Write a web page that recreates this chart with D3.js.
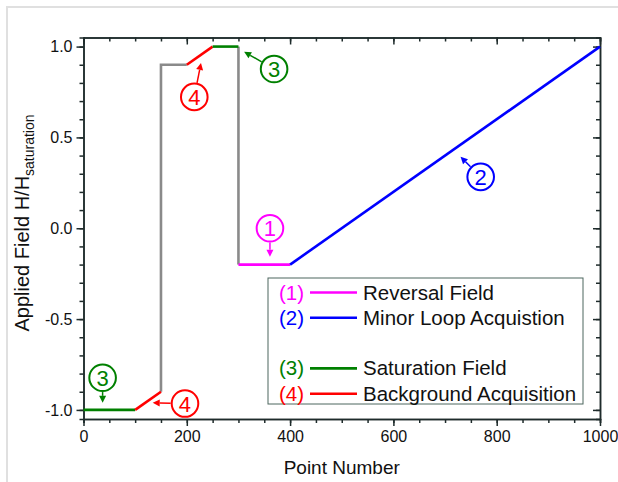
<!DOCTYPE html>
<meta charset="utf-8">
<title>field sequence</title>
<style>

body {
  margin: 0;
  background: #fff;
}

svg {
  font-family: Arial, "Liberation Sans", sans-serif;
}

.frame {
  fill: none;
  stroke: #e0e0e0;
  stroke-width: 2px;
}

.axis path, .axis line {
  stroke: #1e2b2b;
  stroke-width: 1.5px;
}

.axis text {
  font-size: 16px;
  fill: #111;
}

.seg {
  fill: none;
  stroke-width: 2.6px;
  stroke-linejoin: miter;
}

.legend-box {
  fill: #fff;
  stroke: #4d665e;
  stroke-width: 1px;
}

</style>
<body>
<script src="https://cdn.jsdelivr.net/npm/d3@7"></script>
<script>

var width = 618,
    height = 482,
    margin = {top: 37.5, right: 18, bottom: 63, left: 83.5};

// sweep segments: [x, y] points
var grayPath = [[150, -0.9], [150, 0.9], [200, 0.9]],
    grayPath2 = [[300, 1.0], [300, -0.2]],
    satLow = [[0, -1.0], [100, -1.0]],
    bgLow = [[100, -1.0], [150, -0.9]],
    bgHigh = [[200, 0.9], [250, 1.0]],
    satHigh = [[250, 1.0], [300, 1.0]],
    reversal = [[300, -0.2], [400, -0.2]],
    minorLoop = [[400, -0.2], [1000, 1.0]];

var xTicks = [0, 200, 400, 600, 800, 1000],
    yTicks = [-1.0, -0.5, 0.0, 0.5, 1.0];

var legendNums = ["(1)", "(2)", "(3)", "(4)"],
    legendLabels = ["Reversal Field", "Minor Loop Acquistion", "Saturation Field", "Background Acquisition"],
    legendColors = ["#ff00ff", "#0000ff", "#008000", "#ff0000"],
    legendRows = [0, 1, 3, 4];

// callouts: number, colour, circle centre [x, y], arrow tip [x, y]
var callNums = ["3", "4", "1", "2", "3", "4"],
    callColors = ["#008000", "#ff0000", "#ff00ff", "#0000ff", "#008000", "#ff0000"],
    callCenters = [[369, 0.877], [214.5, 0.723], [361, 0.0], [769, 0.283], [37, -0.823], [196.5, -0.965]],
    callTips = [[311, 0.971], [227.5, 0.91], [361, -0.157], [730, 0.393], [37, -0.961], [134, -0.961]];

var w = width - margin.left - margin.right,
    h = height - margin.top - margin.bottom;

var x = d3.scaleLinear().domain([0, 1000]).range([0, w]),
    y = d3.scaleLinear().domain([-1.05, 1.05]).range([h, 0]);

var svg = d3.select("body").append("svg")
    .attr("width", width)
    .attr("height", height);

svg.append("rect")
    .attr("class", "frame")
    .attr("x", 7)
    .attr("y", 7)
    .attr("width", 800)
    .attr("height", 800);

var g = svg.append("g")
    .attr("transform", "translate(" + margin.left + "," + margin.top + ")");

var fmt = function(d) { return d.toFixed(1); };
var yMinor = d3.range(-10, 11).map(function(i) { return i / 10; });

// minor ticks first
g.append("g").attr("class", "axis")
    .attr("transform", "translate(0," + h + ")")
    .call(d3.axisBottom(x).tickValues(d3.range(0, 1001, 50)).tickSize(4).tickFormat(""));
g.append("g").attr("class", "axis")
    .call(d3.axisTop(x).tickValues(d3.range(0, 1001, 50)).tickSize(-4).tickFormat(""));
g.append("g").attr("class", "axis")
    .call(d3.axisLeft(y).tickValues(yMinor).tickSize(4).tickFormat(""));
g.append("g").attr("class", "axis")
    .attr("transform", "translate(" + w + ",0)")
    .call(d3.axisRight(y).tickValues(yMinor).tickSize(-4).tickFormat(""));

// major ticks
g.append("g").attr("class", "axis")
    .attr("transform", "translate(0," + h + ")")
    .call(d3.axisBottom(x).tickValues(xTicks).tickSize(7).tickSizeOuter(0).tickPadding(5).tickFormat(d3.format("d")));
g.append("g").attr("class", "axis")
    .call(d3.axisTop(x).tickValues(xTicks).tickSize(-7).tickSizeOuter(0).tickFormat(""));
g.append("g").attr("class", "axis")
    .call(d3.axisLeft(y).tickValues(yTicks).tickSize(7).tickSizeOuter(0).tickPadding(4).tickFormat(fmt));
g.append("g").attr("class", "axis")
    .attr("transform", "translate(" + w + ",0)")
    .call(d3.axisRight(y).tickValues(yTicks).tickSize(-7).tickSizeOuter(0).tickFormat(""));

g.selectAll(".axis .domain").attr("stroke-width", 1.6);

var line = d3.line()
    .x(function(d) { return x(d[0]); })
    .y(function(d) { return y(d[1]); });

var segs = [
  {pts: grayPath, color: "#8a8a8a"},
  {pts: grayPath2, color: "#8a8a8a"},
  {pts: satLow, color: "#008000"},
  {pts: bgLow, color: "#ff0000"},
  {pts: bgHigh, color: "#ff0000"},
  {pts: satHigh, color: "#008000"},
  {pts: reversal, color: "#ff00ff"},
  {pts: minorLoop, color: "#0000ff"}
];

g.selectAll(".seg")
    .data(segs)
  .enter().append("path")
    .attr("class", "seg")
    .attr("d", function(d) { return line(d.pts); })
    .attr("stroke", function(d) { return d.color; });

// callouts
var r = 13.3;
var calls = g.selectAll(".call")
    .data(callNums.map(function(n, i) {
      return {n: n, color: callColors[i], c: callCenters[i], t: callTips[i]};
    }))
  .enter().append("g")
    .attr("class", "call");

calls.append("circle")
    .attr("cx", function(d) { return x(d.c[0]); })
    .attr("cy", function(d) { return y(d.c[1]); })
    .attr("r", r)
    .attr("fill", "none")
    .attr("stroke", function(d) { return d.color; })
    .attr("stroke-width", 2);

calls.append("text")
    .attr("x", function(d) { return x(d.c[0]); })
    .attr("y", function(d) { return y(d.c[1]) + 8; })
    .attr("text-anchor", "middle")
    .attr("font-size", "22px")
    .attr("fill", function(d) { return d.color; })
    .text(function(d) { return d.n; });

calls.each(function(d) {
  var cx = x(d.c[0]), cy = y(d.c[1]),
      tx = x(d.t[0]), ty = y(d.t[1]),
      dx = tx - cx, dy = ty - cy,
      len = Math.sqrt(dx * dx + dy * dy),
      ux = dx / len, uy = dy / len,
      sx = cx + ux * (r + 1), sy = cy + uy * (r + 1),
      hl = 7, hw = 3.5,
      bx = tx - ux * hl, by = ty - uy * hl;
  var sel = d3.select(this);
  sel.append("line")
      .attr("x1", sx).attr("y1", sy)
      .attr("x2", bx).attr("y2", by)
      .attr("stroke", d.color)
      .attr("stroke-width", 1.5);
  sel.append("path")
      .attr("d", "M" + tx + "," + ty +
                 "L" + (bx - uy * hw) + "," + (by + ux * hw) +
                 "L" + (bx + uy * hw) + "," + (by - ux * hw) + "Z")
      .attr("fill", d.color);
});

// legend
var lg = svg.append("g").attr("transform", "translate(268,278)");
lg.append("rect")
    .attr("class", "legend-box")
    .attr("width", 315)
    .attr("height", 126);

var rows = lg.selectAll(".row")
    .data(legendLabels)
  .enter().append("g")
    .attr("transform", function(d, i) { return "translate(0," + (14.5 + legendRows[i] * 25.3) + ")"; });

rows.append("text")
    .attr("x", 11)
    .attr("y", 7)
    .attr("font-size", "20.5px")
    .attr("fill", function(d, i) { return legendColors[i]; })
    .text(function(d, i) { return legendNums[i]; });

rows.append("line")
    .attr("x1", 42).attr("x2", 89)
    .attr("stroke", function(d, i) { return legendColors[i]; })
    .attr("stroke-width", 2.6);

rows.append("text")
    .attr("x", 95)
    .attr("y", 7)
    .attr("font-size", "20.5px")
    .attr("fill", "#111")
    .text(function(d) { return d; });

// axis titles
svg.append("text")
    .attr("x", margin.left + w / 2)
    .attr("y", 474)
    .attr("text-anchor", "middle")
    .attr("font-size", "19px")
    .attr("fill", "#111")
    .text("Point Number");

var yt = svg.append("text")
    .attr("transform", "translate(29,223)rotate(-90)")
    .attr("text-anchor", "middle")
    .attr("font-size", "20px")
    .attr("fill", "#111");
yt.append("tspan").text("Applied Field H/H");
yt.append("tspan")
    .attr("font-size", "14px")
    .attr("dy", 5)
    .text("saturation");

</script>
</body>
</html>
